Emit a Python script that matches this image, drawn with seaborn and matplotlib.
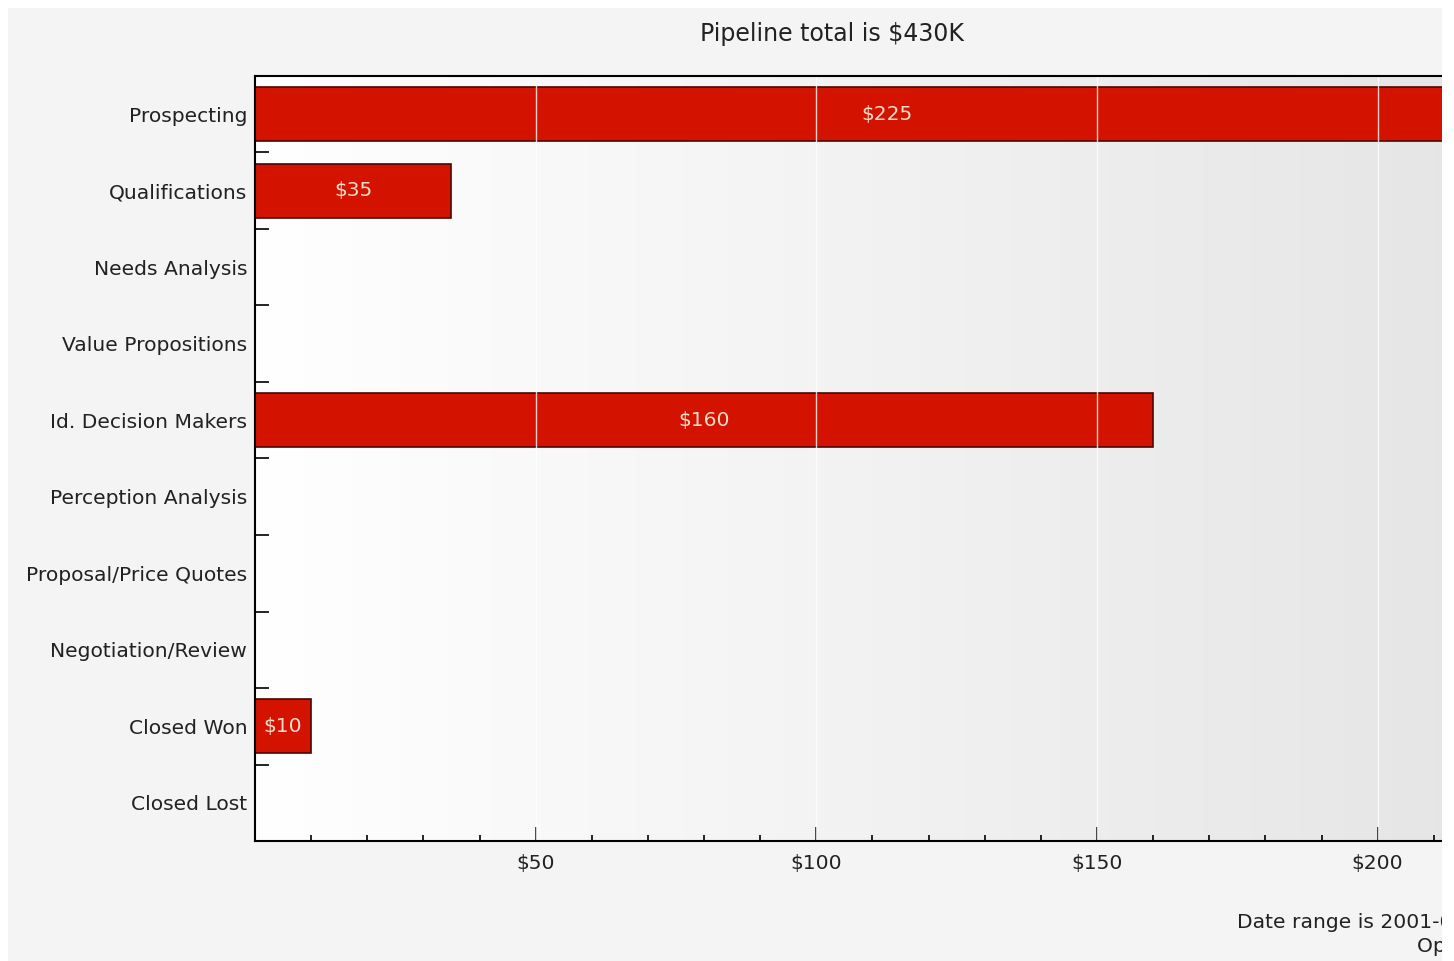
import numpy as np
import pandas as pd
import matplotlib
matplotlib.use("Agg")
import matplotlib.pyplot as plt
from matplotlib.patches import Rectangle
from matplotlib.ticker import MultipleLocator, FuncFormatter, FixedLocator
from matplotlib.colors import LinearSegmentedColormap
import seaborn as sns

# ---- data ----
stages = ["Prospecting", "Qualifications", "Needs Analysis", "Value Propositions",
          "Id. Decision Makers", "Perception Analysis", "Proposal/Price Quotes",
          "Negotiation/Review", "Closed Won", "Closed Lost"]
amounts = [225, 35, 0, 0, 160, 0, 0, 0, 10, 0]
title_text = "Pipeline total is \\$430K"
footer_lines = ["Date range is 2001-01-01 to 2001-12-31", "Opportunity Status: Any"]

df = pd.DataFrame({"stage": stages, "amount": amounts})

sns.set_theme(style="white")
plt.rcParams['font.family'] = ['DejaVu Sans']

W, H = 1454, 961
FS = 14.6
fig = plt.figure(figsize=(W / 100, H / 100), dpi=100)
fig.patch.set_facecolor("white")
# gray panel
fig.add_artist(Rectangle((8 / W, 0), (1442 - 8) / W, (H - 8) / H,
                         transform=fig.transFigure, facecolor="#f4f4f4",
                         edgecolor="none", zorder=-10))

px_per_unit = (1378 - 536) / 150.0
xmax = 245
left = 255 / W
bottom = (H - 841) / H
height = (841 - 76) / H
width = xmax * px_per_unit / W
ax = fig.add_axes([left, bottom, width, height])

# gradient background
grad = np.linspace(0, 1, 512).reshape(1, -1)
cmap = LinearSegmentedColormap.from_list("bg", ["#ffffff", "#e2e2e2"])
ax.imshow(grad, extent=[0, 1, 0, 1], transform=ax.transAxes, aspect="auto",
          cmap=cmap, zorder=0, interpolation="bilinear")

sns.barplot(data=df, y="stage", x="amount", orient="h", ax=ax,
            color="#d41200", saturation=1, width=0.71,
            edgecolor="#4a0800", linewidth=1.2, zorder=2)

ax.set_xlim(0, xmax)
ax.set_ylim(len(stages) - 0.5, -0.5)
ax.set_xlabel("")
ax.set_ylabel("")

# bar labels
for cont in ax.containers:
    labels = [f"\\${v:g}" if v > 0 else "" for v in cont.datavalues]
    ax.bar_label(cont, labels=labels, label_type="center", color="#f6dccb",
                 fontsize=FS, zorder=5)

ax.xaxis.set_major_locator(MultipleLocator(50))
ax.xaxis.set_minor_locator(MultipleLocator(10))
ax.xaxis.set_major_formatter(FuncFormatter(lambda v, p: "" if v == 0 else f"\\${v:g}"))
# grid lines above bars
for xv in [50, 100, 150, 200]:
    ax.axvline(xv, color="white", lw=1.0, alpha=0.8, zorder=3)

ax.tick_params(axis="x", which="major", direction="in", length=10, width=1.2,
               color="black", labelsize=FS, pad=9.5, labelcolor="#222222", bottom=True)
ax.tick_params(axis="x", which="minor", direction="in", length=4, width=1.2,
               color="black", bottom=True)

ax.yaxis.set_minor_locator(FixedLocator(np.arange(0.5, len(stages) - 0.5, 1.0)))
ax.tick_params(axis="y", which="major", length=0, labelsize=FS, pad=5.5, labelcolor="#222222")
ax.tick_params(axis="y", which="minor", direction="in", length=10, width=1.2,
               color="black", left=True)

for side in ["left", "bottom", "top", "right"]:
    ax.spines[side].set_visible(True)
    ax.spines[side].set_color("black")
    ax.spines[side].set_linewidth(1.5)
    ax.spines[side].set_zorder(6)

fig.text(832 / W, 1 - 34 / H, title_text, ha="center", va="center",
         fontsize=17, color="#222222")
fig.text(1237 / W, 1 - 923 / H, footer_lines[0], ha="left", va="center",
         fontsize=FS, color="#222222")
fig.text(1417 / W, 1 - 947 / H, footer_lines[1], ha="left", va="center",
         fontsize=FS, color="#222222")

# right white strip (crop edge of the panel)
fig.add_artist(Rectangle((1442 / W, 0), 20 / W, 1, transform=fig.transFigure,
                         facecolor="white", edgecolor="none", zorder=100))

fig.savefig("out.png", dpi=100)
